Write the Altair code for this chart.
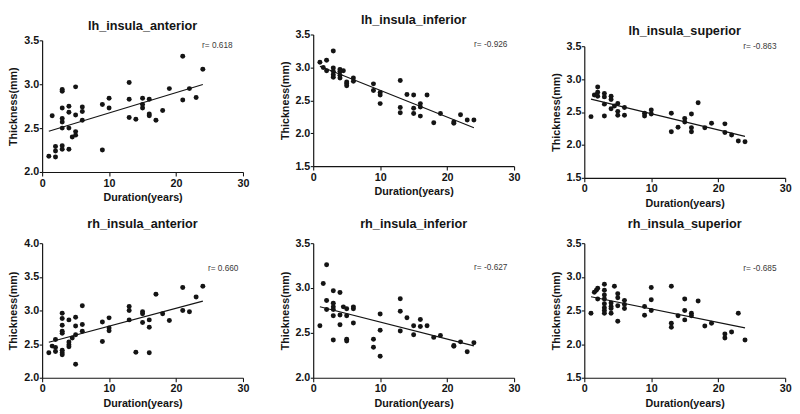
import altair as alt
import pandas as pd

FONT = "Liberation Sans"

names = ["lh_insula_anterior", "lh_insula_inferior", "lh_insula_superior",
         "rh_insula_anterior", "rh_insula_inferior", "rh_insula_superior"]

r_texts = ["r= 0.618", "r= -0.926", "r= -0.863", "r= 0.660", "r= -0.627", "r= -0.685"]

x_ticks = [0, 10, 20, 30]
y_domains = [[2.0, 3.5], [1.5, 3.5], [1.5, 3.5], [2.0, 4.0], [2.0, 3.5], [1.5, 3.5]]
y_ticks = [[2.0, 2.5, 3.0, 3.5], [1.5, 2.0, 2.5, 3.0, 3.5], [1.5, 2.0, 2.5, 3.0, 3.5],
           [2.0, 2.5, 3.0, 3.5, 4.0], [2.0, 2.5, 3.0, 3.5], [1.5, 2.0, 2.5, 3.0, 3.5]]

# lh_insula_anterior
x1 = [1, 1.5, 2, 2, 2, 3, 3, 3, 3, 3, 3, 3, 3, 4, 4, 4, 4, 4.5, 5, 5, 5, 5, 6, 6, 6,
      9, 9, 10, 10, 13, 13, 13, 14, 15, 15, 15, 16, 16, 16, 17, 18, 19, 21, 21, 22, 23, 24]
y1 = [2.18, 2.64, 2.29, 2.24, 2.17, 2.94, 2.92, 2.73, 2.61, 2.57, 2.50, 2.30, 2.26,
      2.75, 2.68, 2.50, 2.26, 2.40, 2.97, 2.65, 2.46, 2.42, 2.74, 2.69, 2.59,
      2.77, 2.25, 2.84, 2.73, 3.02, 2.83, 2.62, 2.60, 2.84, 2.77, 2.73, 2.83, 2.66, 2.64,
      2.59, 2.70, 2.95, 3.32, 2.82, 2.95, 2.85, 3.17]

# lh_insula_inferior
x2 = [1, 1.5, 2, 2, 3, 3, 3, 3, 3, 4, 4, 4, 4, 4.5, 5, 5, 5, 6, 6, 9, 9, 10, 10, 10,
      13, 13, 13, 14, 15, 15, 15, 16, 16, 16, 17, 18, 19, 21, 21, 22, 23, 24]
y2 = [3.08, 3.00, 3.11, 2.95, 3.25, 2.99, 2.94, 2.89, 2.85, 2.97, 2.94, 2.88, 2.84, 2.95,
      2.78, 2.75, 2.72, 2.84, 2.79, 2.75, 2.65, 2.62, 2.58, 2.45, 2.80, 2.39, 2.31, 2.59,
      2.58, 2.38, 2.30, 2.45, 2.40, 2.26, 2.58, 2.16, 2.30, 2.17, 2.15, 2.28, 2.20, 2.20]

# lh_insula_superior
x3 = [1, 1.5, 2, 2, 2, 3, 3, 3, 3, 4, 4, 4, 4.5, 5, 5, 5, 6, 6, 9, 9, 10, 10,
      13, 13, 14, 15, 15, 16, 16, 16, 17, 18, 19, 21, 21, 22, 23, 24]
y3 = [2.43, 2.76, 2.88, 2.80, 2.74, 2.78, 2.73, 2.62, 2.44, 2.74, 2.69, 2.55, 2.59,
      2.63, 2.51, 2.45, 2.57, 2.45, 2.48, 2.44, 2.53, 2.47, 2.48, 2.20, 2.27, 2.40,
      2.35, 2.47, 2.26, 2.20, 2.64, 2.26, 2.33, 2.32, 2.19, 2.15, 2.06, 2.05]

# rh_insula_anterior
x4 = [1, 1.5, 2, 2, 2, 3, 3, 3, 3, 3, 3, 3, 3, 4, 4, 4, 4, 4.5, 5, 5, 5, 5, 6, 6, 6,
      9, 9, 10, 10, 10, 13, 13, 13, 14, 15, 15, 15, 16, 16, 16, 17, 18, 19, 21, 21, 22, 23, 24]
y4 = [2.37, 2.47, 2.57, 2.45, 2.39, 2.96, 2.88, 2.78, 2.69, 2.66, 2.41, 2.37, 2.34,
      2.86, 2.53, 2.49, 2.46, 2.59, 2.90, 2.77, 2.64, 2.20, 3.07, 2.79, 2.69,
      2.83, 2.54, 2.89, 2.74, 2.70, 3.06, 3.00, 2.86, 2.38, 2.98, 2.95, 2.82,
      2.86, 2.75, 2.37, 3.24, 2.95, 2.85, 3.34, 3.00, 2.98, 3.20, 3.36]

# rh_insula_inferior
x5 = [1, 1.5, 2, 2, 2, 3, 3, 3, 3, 3, 3, 4, 4, 4, 4.5, 5, 5, 5, 5, 6, 6, 6, 9, 9,
      10, 10, 10, 13, 13, 13, 14, 15, 15, 16, 16, 17, 18, 19, 21, 21, 22, 23, 24]
y5 = [2.58, 3.05, 3.26, 2.86, 2.76, 2.97, 2.83, 2.79, 2.76, 2.69, 2.42, 2.95, 2.70,
      2.59, 2.79, 2.77, 2.69, 2.43, 2.41, 2.79, 2.77, 2.61, 2.43, 2.34, 2.71, 2.53,
      2.24, 2.88, 2.74, 2.52, 2.67, 2.58, 2.48, 2.65, 2.57, 2.58, 2.45, 2.47, 2.36,
      2.35, 2.40, 2.29, 2.39]

# rh_insula_superior
x6 = [1, 1.5, 1.8, 2, 2, 3, 3, 3, 3, 3, 3, 3, 3, 4, 4, 4, 4, 4.5, 5, 5, 5, 5, 6, 6, 6,
      9, 9, 10, 10, 10, 13, 13, 13, 14, 15, 15, 15, 16, 16, 17, 18, 19, 21, 21, 22, 23, 24]
y6 = [2.46, 2.77, 2.80, 2.83, 2.67, 2.89, 2.80, 2.73, 2.67, 2.60, 2.54, 2.50, 2.46,
      2.61, 2.56, 2.53, 2.46, 2.86, 2.75, 2.69, 2.57, 2.34, 2.65, 2.59, 2.53,
      2.56, 2.43, 2.84, 2.66, 2.50, 2.86, 2.31, 2.25, 2.42, 2.67, 2.50, 2.36,
      2.46, 2.42, 2.64, 2.27, 2.31, 2.15, 2.09, 2.18, 2.46, 2.06]

xs_all = [x1, x2, x3, x4, x5, x6]
ys_all = [y1, y2, y3, y4, y5, y6]

# ---- styling ----
W = 206
H_top, H_bot = 135, 138
r_pos = [(164, 5), (165, 10), (163, 0), (170, 26), (165, 25), (163, 26)]
col_drop = [6, 0, 12]          # top-row panels sit lower in columns 1 and 3
INK = "#141414"


def panel(i, h):
    df = pd.DataFrame({"x": xs_all[i], "y": ys_all[i]})
    xaxis = alt.Axis(values=x_ticks, tickCount=12, title="Duration(years)", format="d",
                     tickSize=4, labelPadding=1.5, titlePadding=4,
                     labelOverlap=False, labelFlush=False)
    yaxis = alt.Axis(values=y_ticks[i], tickCount=12, title="Thickness(mm)", format=".1f",
                     tickSize=3, labelPadding=0.5, titlePadding=5,
                     labelOverlap=False, labelFlush=False)
    xenc = alt.X("x:Q", scale=alt.Scale(domain=[0, 30], nice=False, zero=False), axis=xaxis)
    yenc = alt.Y("y:Q", scale=alt.Scale(domain=y_domains[i], nice=False, zero=False),
                 axis=yaxis)
    pts = alt.Chart(df).mark_circle(size=26, color=INK, opacity=1).encode(x=xenc, y=yenc)
    line = (alt.Chart(df)
            .transform_regression("x", "y", extent=[1, 24])
            .mark_line(color=INK, strokeWidth=1.2)
            .encode(x=xenc, y=yenc))
    rdf = pd.DataFrame({"t": [r_texts[i]]})
    txt = alt.Chart(rdf).mark_text(align="left", baseline="middle", fontSize=8.5,
                                   font=FONT, color="#3a3a3a").encode(
        text="t:N", x=alt.value(r_pos[i][0]), y=alt.value(r_pos[i][1]))
    return alt.layer(pts, line, txt).properties(width=W, height=h)


def title_block(i, h, gap):
    tdf = pd.DataFrame({"t": [names[i]]})
    return (alt.Chart(tdf)
            .mark_text(fontSize=13, fontWeight="bold", font=FONT, color=INK,
                       align="center", baseline="middle")
            .encode(text="t:N", x=alt.value(W / 2), y=alt.value(h - gap))
            .properties(width=W, height=h))


cols = []
for c in range(3):
    d = col_drop[c]
    top = alt.vconcat(title_block(c, 14 + d, 7), panel(c, H_top), spacing=2)
    bot = alt.vconcat(title_block(c + 3, 19 + (12 - d), 12), panel(c + 3, H_bot), spacing=2)
    cols.append(alt.vconcat(top, bot, spacing=8))

chart = (alt.hconcat(*cols, spacing=30)
         .properties(padding=0, background="white")
         .configure_view(stroke=None)
         .configure_axis(grid=False, domainColor=INK, domainWidth=1.2, tickColor=INK,
                         tickWidth=1.1, labelFont=FONT, labelFontSize=11,
                         labelFontWeight="bold", labelColor=INK, titleFont=FONT,
                         titleFontSize=11, titleFontWeight="bold", titleColor=INK))

chart.save("out.html", embed_options={"renderer": "svg", "actions": False})
